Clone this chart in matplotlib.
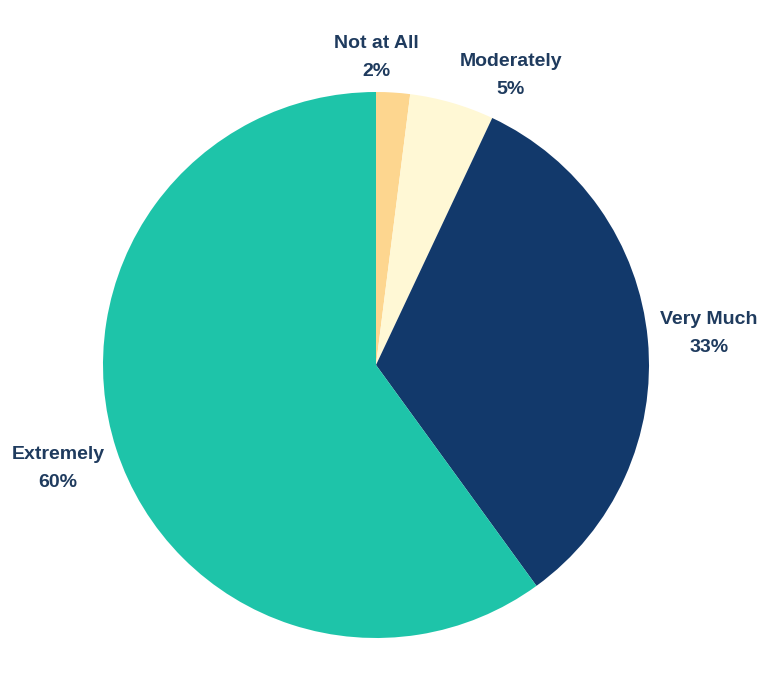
import numpy as np
import matplotlib.pyplot as plt

categories = ['Not at All', 'Moderately', 'Very Much', 'Extremely']
shares = [2, 5, 33, 60]
colors = ['#FDD68F', '#FFF8D5', '#12396B', '#1EC4A9']

# small slices get their labels nudged so they don't collide
label_dist = [1.125, 1.17, 1.225, 1.225]
label_angle = [90, 65, None, None]

fig = plt.figure(figsize=(7.68, 6.75), dpi=100)
ax = fig.add_axes([103 / 768, 37 / 675, 546 / 768, 546 / 675])

labels = [f'{c}\n{s}%' for c, s in zip(categories, shares)]
wedges, texts = ax.pie(shares, colors=colors, startangle=90, counterclock=False,
                       labels=labels, labeldistance=1.225,
                       textprops=dict(color='#1F3B5E', fontsize=14, fontweight='bold',
                                      family='Liberation Sans', ha='center', va='center',
                                      linespacing=1.85),
                       wedgeprops=dict(linewidth=0))

for w, t, d, a in zip(wedges, texts, label_dist, label_angle):
    if a is None:
        a = (w.theta1 + w.theta2) / 2
    t.set_position((d * np.cos(np.radians(a)), d * np.sin(np.radians(a))))
    t.set_ha('center')

ax.set_xlim(-1, 1)
ax.set_ylim(-1, 1)
ax.set_aspect('equal')
ax.axis('off')

fig.savefig('out.png', dpi=100)
